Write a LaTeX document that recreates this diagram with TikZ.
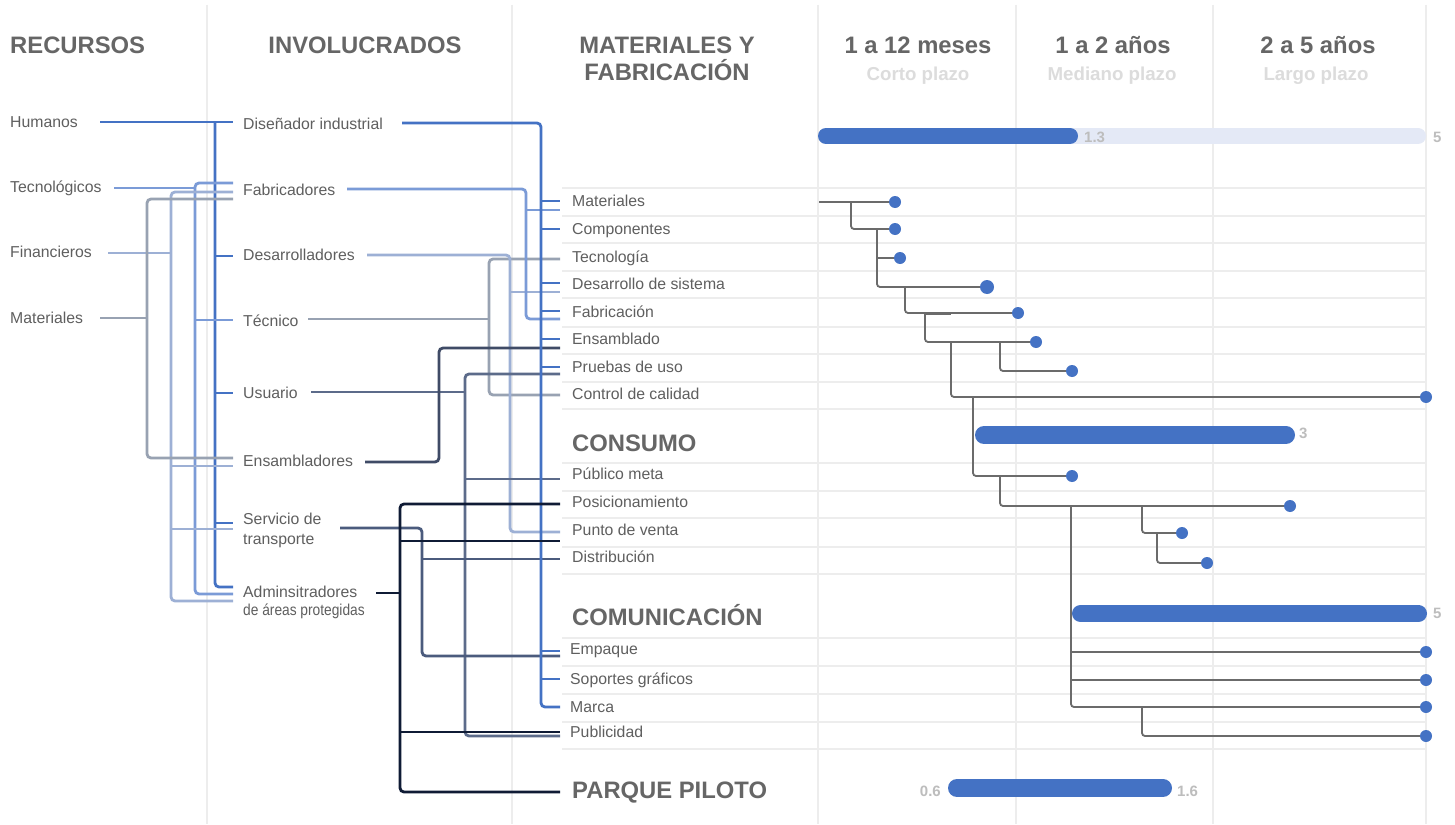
\documentclass[tikz,border=0pt]{standalone}
\usepackage{fontspec}
\setmainfont{Liberation Sans}
\usepackage{graphicx}
\definecolor{cBlue}{HTML}{4472C4}
\definecolor{cTec}{HTML}{7B9BD7}
\definecolor{cFin}{HTML}{9DB0D5}
\definecolor{cMat}{HTML}{98A2B2}
\definecolor{cUsu}{HTML}{5C6B8A}
\definecolor{cEns}{HTML}{3F4B66}
\definecolor{cServ}{HTML}{4B5B7D}
\definecolor{cAdm}{HTML}{0F1B35}
\definecolor{cTree}{HTML}{6B6B6B}
\definecolor{cGrid}{HTML}{EDEDED}
\definecolor{cTxt}{HTML}{5F5F5F}
\definecolor{cHdr}{HTML}{666666}
\definecolor{cLight}{HTML}{DCDCDC}
\definecolor{cBarBg}{HTML}{E4E9F6}
\definecolor{cNum}{HTML}{BDBDBD}
\begin{document}
\begin{tikzpicture}[x=1pt,y=-1pt,
  lbl/.style={font=\fontsize{15.8}{19}\selectfont, text=cTxt, inner sep=0, anchor=base west},
  hdr/.style={font=\fontsize{23.8}{27}\selectfont\bfseries, text=cHdr, inner sep=0, anchor=base},
  sec/.style={font=\fontsize{23.8}{27}\selectfont\bfseries, text=cHdr, inner sep=0, anchor=base west},
  sub/.style={font=\fontsize{18.7}{22}\selectfont\bfseries, text=cLight, inner sep=0, anchor=base},
  num/.style={font=\fontsize{15}{17}\selectfont\bfseries, text=cNum, inner sep=0},
  grid/.style={draw=cGrid, line width=1.5},
  wire/.style={line width=2.8, rounded corners=4},
  tree/.style={draw=cTree, line width=1.8, rounded corners=3},
  dot/.style={fill=cBlue},
  bar/.style={line width=17, line cap=round, draw=cBlue}]
\useasboundingbox[fill=white] (0,0) rectangle (1455,824);
% grid
\foreach \gx in {207,512,818,1016,1213,1426} \draw[grid] (\gx,5) -- (\gx,824);
\foreach \gy in {188,216,243,271,298,327,354,382,409,463,491,518,547,574,638,666,694,722,749}
  \draw[grid] (562,\gy) -- (1426,\gy);
% headers
\node[sec] (hRec) at (10,53.3) {RECURSOS};
\node[hdr] (hInv) at (365,53.3) {INVOLUCRADOS};
\node[hdr] (hMat1) at (667,53.3) {MATERIALES Y};
\node[hdr] (hMat2) at (667,80.3) {FABRICACIÓN};
\node[hdr] (hT1) at (918,53.3) {1 a 12 meses};
\node[hdr] (hT2) at (1113,53.3) {1 a 2 años};
\node[hdr] (hT3) at (1318,53.3) {2 a 5 años};
\node[sub] (sT1) at (918,80.5) {Corto plazo};
\node[sub] (sT2) at (1112,80.5) {Mediano plazo};
\node[sub] (sT3) at (1316,80.5) {Largo plazo};
% resources
\node[lbl] (rHum) at (10,127.5) {Humanos};
\node[lbl] (rTec) at (10,192.5) {Tecnológicos};
\node[lbl] (rFin) at (10,257.5) {Financieros};
\node[lbl] (rMat) at (10,323.5) {Materiales};
% involucrados
\node[lbl] (iDis) at (243,129.5) {Diseñador industrial};
\node[lbl] (iFab) at (243,195.5) {Fabricadores};
\node[lbl] (iDes) at (243,260.5) {Desarrolladores};
\node[lbl] (iTec) at (243,326.5) {Técnico};
\node[lbl] (iUsu) at (243,398.5) {Usuario};
\node[lbl] (iEns) at (243,466.5) {Ensambladores};
\node[lbl] (iSer1) at (243,524.5) {Servicio de};
\node[lbl] (iSer2) at (243,544) {transporte};
\node[lbl] (iAdm1) at (243,597) {Adminsitradores};
\node[lbl] (iAdm2) at (243,615.5) {\scalebox{0.87}[1]{de áreas protegidas}};
% rows
\node[lbl] (mMat) at (572,206.5) {Materiales};
\node[lbl] (mCom) at (572,234.5) {Componentes};
\node[lbl] (mTec) at (572,262.5) {Tecnología};
\node[lbl] (mDes) at (572,289.5) {Desarrollo de sistema};
\node[lbl] (mFab) at (572,317.5) {Fabricación};
\node[lbl] (mEns) at (572,344.5) {Ensamblado};
\node[lbl] (mPru) at (572,372.5) {Pruebas de uso};
\node[lbl] (mCon) at (572,399.5) {Control de calidad};
\node[sec] (sCons) at (572,451.3) {CONSUMO};
\node[lbl] (cPub) at (572,479.5) {Público meta};
\node[lbl] (cPos) at (572,507.5) {Posicionamiento};
\node[lbl] (cPun) at (572,535.5) {Punto de venta};
\node[lbl] (cDis) at (572,562.5) {Distribución};
\node[sec] (sComu) at (572,625.3) {COMUNICACIÓN};
\node[lbl] (kEmp) at (570,654.5) {Empaque};
\node[lbl] (kSop) at (570,684.5) {Soportes gráficos};
\node[lbl] (kMar) at (570,712.5) {Marca};
\node[lbl] (kPub) at (570,737.5) {Publicidad};
\node[sec] (sPar) at (572,798.3) {PARQUE PILOTO};
% resource wires
\draw[wire, cBlue] (100,122) -- (233,122);
\draw[wire, cBlue] (215,122) -- (215,587) -- (233,587);
\foreach \yy in {256,393,523} \draw[wire, cBlue] (215,\yy) -- (233,\yy);
\draw[wire, cTec] (114,188) -- (195,188);
\draw[wire, cTec] (233,183) -- (195,183) -- (195,594) -- (233,594);
\draw[wire, cTec] (195,320) -- (233,320);
\draw[wire, cFin] (108,253) -- (171,253);
\draw[wire, cFin] (233,192) -- (171,192) -- (171,601) -- (233,601);
\foreach \yy in {466,529} \draw[wire, cFin] (171,\yy) -- (233,\yy);
\draw[wire, cMat] (100,318) -- (147,318);
\draw[wire, cMat] (233,199) -- (147,199) -- (147,458) -- (233,458);
% involucrados wires
\draw[wire, cMat] (308,319) -- (489,319);
\draw[wire, cMat] (560,259) -- (489,259) -- (489,395) -- (560,395);
\draw[wire, cFin] (367,255) -- (510,255) -- (510,532) -- (560,532);
\draw[wire, cFin] (510,292) -- (560,292);
\draw[wire, cTec] (347,189) -- (526,189) -- (526,319) -- (560,319);
\draw[wire, cTec] (526,210) -- (560,210);
\draw[wire, cUsu] (311,392) -- (465,392);
\draw[wire, cUsu] (560,374) -- (465,374) -- (465,736) -- (560,736);
\draw[wire, cUsu] (465,479) -- (560,479);
\draw[wire, cEns] (365,462) -- (439,462) -- (439,348) -- (560,348);
\draw[wire, cServ] (340,528) -- (422,528) -- (422,656) -- (560,656);
\draw[wire, cServ] (422,559) -- (560,559);
\draw[wire, cBlue] (402,123) -- (541,123) -- (541,707) -- (560,707);
\foreach \yy in {201,229,283,311,339,367,651,679} \draw[wire, cBlue] (541,\yy) -- (560,\yy);
\draw[wire, cAdm] (376,593) -- (400,593);
\draw[wire, cAdm] (560,504) -- (400,504) -- (400,792) -- (560,792);
\foreach \yy in {541,732} \draw[wire, cAdm] (400,\yy) -- (560,\yy);
% bars
\draw[bar, draw=cBarBg, line width=16] (826,136) -- (1418,136);
\draw[bar, line width=16] (826,136) -- (1070,136);
\draw[bar, line width=18] (984,435) -- (1286,435);
\draw[bar] (1080.5,613.5) -- (1418.5,613.5);
\draw[bar, line width=18] (957,788) -- (1163,788);
\node[num, anchor=base west] (n13) at (1084,142.5) {1.3};
\node[num, anchor=base west] (n5a) at (1433,142.5) {5};
\node[num, anchor=base west] (n3) at (1299,438.5) {3};
\node[num, anchor=base west] (n5b) at (1433,618) {5};
\node[num, anchor=base east] (n06) at (941,796.5) {0.6};
\node[num, anchor=base west] (n16) at (1177,796.5) {1.6};
% tree
\draw[tree] (819,202) -- (895,202);
\draw[tree] (851,202) |- (895,229);
\draw[tree] (877,229) |- (987,287);
\draw[tree] (877,258) -- (900,258);
\draw[tree] (905,287) |- (1018,313);
\draw[draw=cTree, line width=3] (925,313) -- (951,313);
\draw[tree] (925,313) |- (1036,342);
\draw[tree] (1000,342) |- (1072,371);
\draw[tree] (951,342) |- (1426,397);
\draw[tree] (973,397) |- (1072,476);
\draw[tree] (1000,476) |- (1290,506);
\draw[tree] (1071,506) |- (1426,707);
\draw[tree] (1071,652) -- (1426,652);
\draw[tree] (1071,680) -- (1426,680);
\draw[tree] (1142,506) |- (1182,533);
\draw[tree] (1157,533) |- (1207,563);
\draw[tree] (1142,707) |- (1426,736);
\foreach \px/\py in {895/202,895/229,900/258,1018/313,1036/342,1072/371,1426/397,1072/476,1290/506,1182/533,1207/563,1426/652,1426/680,1426/707,1426/736}
  \fill[dot] (\px,\py) circle (6);
\fill[dot] (987,287) circle (7);
\end{tikzpicture}
\end{document}
